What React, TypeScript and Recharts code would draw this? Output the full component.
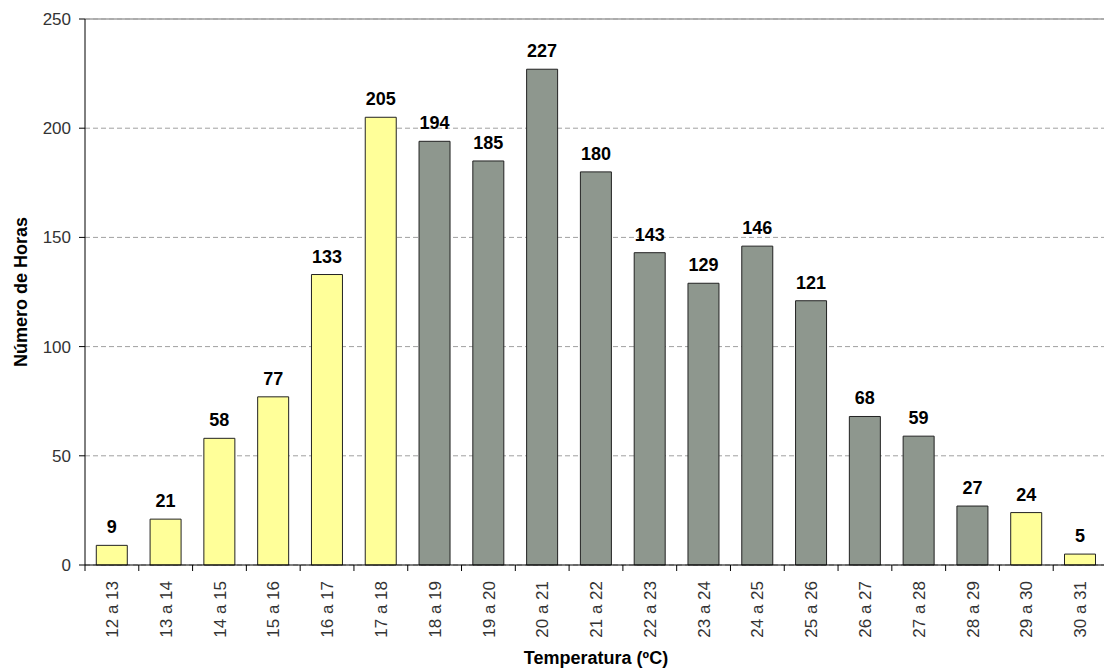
import React from "react";
import { BarChart, Bar, XAxis, YAxis, CartesianGrid, Cell, LabelList, Label, ReferenceLine } from "recharts";

const categories = ["12 a 13","13 a 14","14 a 15","15 a 16","16 a 17","17 a 18","18 a 19","19 a 20","20 a 21","21 a 22","22 a 23","23 a 24","24 a 25","25 a 26","26 a 27","27 a 28","28 a 29","29 a 30","30 a 31"];
const horas = [9,21,58,77,133,205,194,185,227,180,143,129,146,121,68,59,27,24,5];
const isYellow = [true,true,true,true,true,true,false,false,false,false,false,false,false,false,false,false,false,true,true];
const yTicks = [0,50,100,150,200,250];

const YELLOW = "#FFFF99";
const GRAY = "#8E978E";

const data = categories.map((c, i) => ({ cat: c, horas: horas[i], yellow: isYellow[i] }));

const CHART_W = 1110;
const CHART_H = 671;
const Y_W = 85;
const M_RIGHT = 3;
const PLOT_W = CHART_W - Y_W - M_RIGHT;
const BAND = PLOT_W / categories.length;
const FONT = "'Liberation Sans', Arial, sans-serif";

const XTick = (props: any) => {
  const { x, y, payload, index } = props;
  const half = BAND / 2;
  const last = index === categories.length - 1;
  return (
    <g>
      <line x1={x - half} y1={y - 6} x2={x - half} y2={y} stroke="#000" />
      {last && <line x1={x + half} y1={y - 6} x2={x + half} y2={y} stroke="#000" />}
      <text
        x={x}
        y={y + 10}
        transform={`rotate(-90, ${x}, ${y + 10})`}
        textAnchor="end"
        dy="0.36em"
        fontSize={17}
        fontFamily={FONT}
        fill="#333"
      >
        {payload.value}
      </text>
    </g>
  );
};

export default function App() {
  return (
    <div style={{ position: "fixed", left: 0, top: 0, width: 1104, height: 671, overflow: "hidden", background: "#fff" }}>
      <BarChart
        width={CHART_W}
        height={CHART_H}
        data={data}
        margin={{ top: 19, right: M_RIGHT, left: 0, bottom: 0 }}
        barCategoryGap="21%"
      >
        <CartesianGrid vertical={false} stroke="#a0a0a0" strokeDasharray="5 3" />
        <ReferenceLine y={250} stroke="#a0a0a0" strokeWidth={1.5} />
        <XAxis
          dataKey="cat"
          interval={0}
          height={106}
          tickLine={false}
          tickSize={6}
          tickMargin={0}
          axisLine={{ stroke: "#000" }}
          tick={<XTick />}
        >
          <Label
            content={() => (
              <text x={85 + PLOT_W / 2} y={664} textAnchor="middle" fontSize={18} fontWeight="bold" fontFamily={FONT} fill="#000">
                Temperatura (ºC)
              </text>
            )}
          />
        </XAxis>
        <YAxis
          width={Y_W}
          domain={[0, 250]}
          ticks={yTicks}
          interval={0}
          tickSize={6}
          tickMargin={8}
          axisLine={{ stroke: "#000" }}
          tickLine={{ stroke: "#000" }}
          tick={{ fontSize: 17, fontFamily: FONT, fill: "#333" }}
        >
          <Label
            content={() => (
              <text
                x={27}
                y={292}
                transform="rotate(-90, 27, 292)"
                textAnchor="middle"
                fontSize={18}
                fontWeight="bold"
                fontFamily={FONT}
                fill="#000"
              >
                Número de Horas
              </text>
            )}
          />
        </YAxis>
        <Bar dataKey="horas" stroke="#222" strokeWidth={1} isAnimationActive={false}>
          {data.map((d, i) => (
            <Cell key={i} fill={d.yellow ? YELLOW : GRAY} />
          ))}
          <LabelList
            dataKey="horas"
            position="top"
            offset={12}
            fontSize={18}
            fontWeight="bold"
            fontFamily={FONT}
            fill="#000"
          />
        </Bar>
      </BarChart>
    </div>
  );
}
